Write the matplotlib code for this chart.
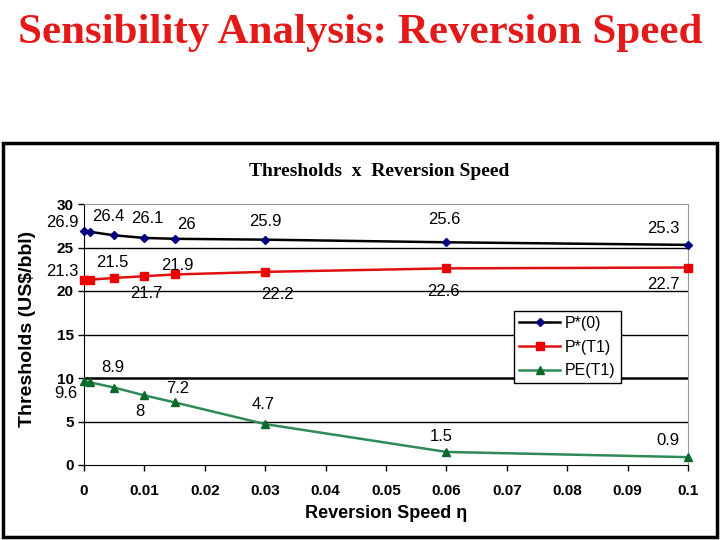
import matplotlib
matplotlib.use("Agg")
import matplotlib.pyplot as plt
from matplotlib.patches import Rectangle

# data
speed = [0, 0.001, 0.005, 0.01, 0.015, 0.03, 0.06, 0.1]
p_star_0 = [26.9, 26.8, 26.4, 26.1, 26.0, 25.9, 25.6, 25.3]
p_star_t1 = [21.3, 21.3, 21.5, 21.7, 21.9, 22.2, 22.6, 22.7]
pe_t1 = [9.6, 9.5, 8.9, 8.0, 7.2, 4.7, 1.5, 0.9]

labels_p0 = ["26.9", None, "26.4", "26.1", "26", "25.9", "25.6", "25.3"]
labels_pt1 = ["21.3", None, "21.5", "21.7", "21.9", "22.2", "22.6", "22.7"]
labels_pe = ["9.6", None, "8.9", "8", "7.2", "4.7", "1.5", "0.9"]

x_ticks = [0, 0.01, 0.02, 0.03, 0.04, 0.05, 0.06, 0.07, 0.08, 0.09, 0.1]
x_tick_labels = ["0", "0.01", "0.02", "0.03", "0.04", "0.05", "0.06", "0.07", "0.08", "0.09", "0.1"]
y_ticks = [0, 5, 10, 15, 20, 25, 30]

# label offsets in pixels (dx, dy) from each point
off_p0 = [(-22, 8), None, (-6, 19), (3, 19), (12, 14), (0, 18), (-2, 23), (-25, 16)]
off_pt1 = [(-22, 8), None, (-2, 15), (2, -17), (3, 9), (12, -23), (-3, -23), (-25, -17)]
off_pe = [(-18, -12), None, (-1, 20), (-5, -16), (3, 14), (-2, 20), (-5, 15), (-20, 17)]

SANS = ["Liberation Sans", "DejaVu Sans"]

fig = plt.figure(figsize=(7.2, 5.4), dpi=100)
fig.patch.set_facecolor("white")

fig.text(0.5, 1 - 33 / 540, "Sensibility Analysis: Reversion Speed", ha="center", va="center",
         color="#e41a1a", fontsize=31, fontweight="bold", family="Liberation Serif")

fig.patches.append(Rectangle((3 / 720, 3 / 540), 714 / 720, 394 / 540, transform=fig.transFigure,
                             fill=False, edgecolor="black", linewidth=2.5))

fig.text(0.527, 1 - 172 / 540, "Thresholds  x  Reversion Speed", ha="center", va="center",
         fontsize=14, fontweight="bold", family="Liberation Serif")

ax = fig.add_axes([84 / 720, 1 - 465 / 540, 604 / 720, 261 / 540])

for y in [5, 15, 20, 25]:
    ax.axhline(y, color="black", linewidth=1, zorder=1)
ax.axhline(10, color="black", linewidth=1.8, zorder=1)

ax.plot(speed, p_star_0, color="black", linewidth=1.8, marker="D", markersize=4,
        markerfacecolor="#000080", markeredgecolor="#000080", label="P*(0)", zorder=3, clip_on=False)
ax.plot(speed, p_star_t1, color="#e01010", linewidth=1.8, marker="s", markersize=5.5,
        markerfacecolor="#ee0000", markeredgecolor="#ee0000", label="P*(T1)", zorder=3, clip_on=False)
ax.plot(speed, pe_t1, color="#2e8b57", linewidth=1.8, marker="^", markersize=6,
        markerfacecolor="#0a6a2a", markeredgecolor="#0a6a2a", label="PE(T1)", zorder=3, clip_on=False)

for xs, ys, labs, offs in [(speed, p_star_0, labels_p0, off_p0),
                           (speed, p_star_t1, labels_pt1, off_pt1),
                           (speed, pe_t1, labels_pe, off_pe)]:
    for xv, yv, lab, off in zip(xs, ys, labs, offs):
        if lab is None:
            continue
        ax.annotate(lab, (xv, yv), xytext=(off[0] * 0.72, off[1] * 0.72), textcoords="offset points",
                    ha="center", va="center", fontsize=12, family=SANS, annotation_clip=False)

ax.set_xlim(0, 0.1)
ax.set_ylim(0, 30)
ax.set_xticks(x_ticks)
ax.set_xticklabels(x_tick_labels)
ax.set_yticks(y_ticks)
ax.tick_params(direction="out", length=4, width=1, labelsize=11)
for lab in ax.get_xticklabels() + ax.get_yticklabels():
    lab.set_fontweight("bold")
    lab.set_family(SANS)
ax.tick_params(axis="x", pad=10)

ax.spines["left"].set_color("black")
ax.spines["bottom"].set_color("black")
ax.spines["top"].set_color("#999999")
ax.spines["right"].set_color("#999999")

ax.set_xlabel("Reversion Speed \u03b7", fontsize=13, fontweight="bold", family=SANS, labelpad=5)
ax.set_ylabel("Thresholds (US$/bbl)", fontsize=14, fontweight="bold", family=SANS)
ax.yaxis.set_label_coords(-0.08, 0.52)

leg = ax.legend(loc="upper left", bbox_to_anchor=(0.712, 0.59), frameon=True, fancybox=False,
                edgecolor="black", framealpha=1, borderaxespad=0, handlelength=2.6,
                prop={"family": SANS, "size": 11.5},
                borderpad=0.3, labelspacing=0.55, handletextpad=0.3)
leg.get_frame().set_linewidth(1)
leg.set_zorder(5)

fig.savefig("out.png", dpi=100)
